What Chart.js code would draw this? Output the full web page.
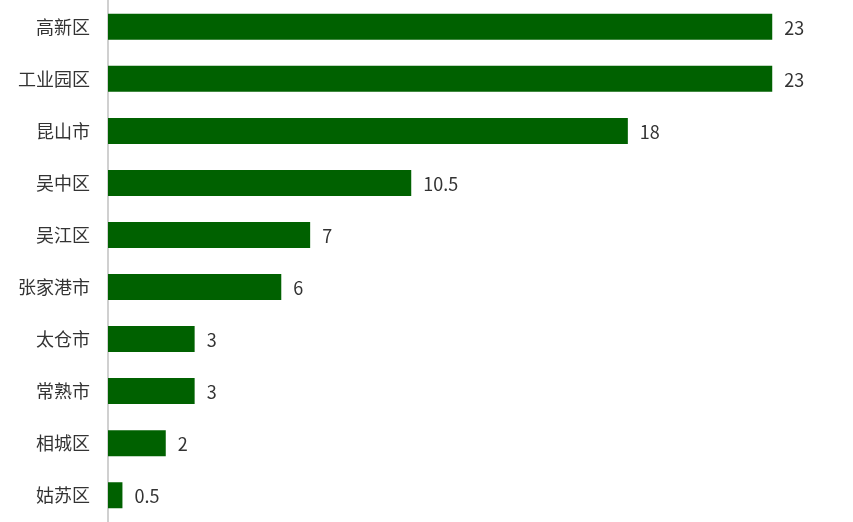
<!DOCTYPE html>
<html lang="zh-CN">
<head>
<meta charset="UTF-8">
<title>苏州各区</title>
<script src="https://cdn.jsdelivr.net/npm/chart.js"></script>
<style>
  html, body { margin: 0; padding: 0; background: #fff; overflow: hidden; width: 853px; height: 522px; }
  #wrap { width: 853px; height: 578px; position: relative; top: -28px; }
</style>
</head>
<body>
<div id="wrap"><canvas id="chart"></canvas></div>
<script>
const categories = ['高新区', '工业园区', '昆山市', '吴中区', '吴江区', '张家港市', '太仓市', '常熟市', '相城区', '姑苏区'];
const values = [23, 23, 18, 10.5, 7, 6, 3, 3, 2, 0.5];

const FONT = '"Microsoft YaHei", "Noto Sans CJK SC", sans-serif';

// draw the value next to each bar
const valueLabels = {
  id: 'valueLabels',
  afterDatasetsDraw(chart) {
    const ctx = chart.ctx;
    const meta = chart.getDatasetMeta(0);
    ctx.save();
    ctx.font = '18px ' + FONT;
    ctx.fillStyle = '#333';
    ctx.textBaseline = 'middle';
    meta.data.forEach((bar, i) => {
      ctx.fillText(String(values[i]), bar.x + 12, bar.y + 1);
    });
    ctx.restore();
  }
};

new Chart(document.getElementById('chart'), {
  type: 'bar',
  data: {
    labels: categories,
    datasets: [{
      data: values,
      backgroundColor: '#006100',
      barPercentage: 0.5,
      categoryPercentage: 1
    }]
  },
  options: {
    indexAxis: 'y',
    responsive: true,
    maintainAspectRatio: false,
    animation: false,
    layout: { padding: { top: 0, right: 23, bottom: 0, left: 0 } },
    plugins: { legend: { display: false }, tooltip: { enabled: false } },
    scales: {
      x: {
        min: 0, max: 25,
        display: false,
        grid: { display: false }
      },
      y: {
        afterFit(axis) { axis.width = 108; },
        grid: { display: false, drawTicks: false },
        border: { display: true, color: '#d0d0d0', width: 2 },
        ticks: { color: '#333', padding: 18, font: { size: 18, family: FONT } }
      }
    }
  },
  plugins: [valueLabels]
});
</script>
</body>
</html>
